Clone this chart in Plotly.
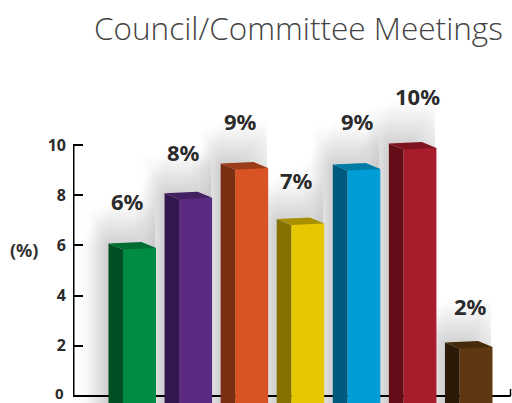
import plotly.graph_objects as go

categories = ["A", "B", "C", "D", "E", "F", "G"]
values = [5.9, 7.9, 9.08, 6.87, 9.04, 9.88, 1.95]
labels = ["6%", "8%", "9%", "7%", "9%", "10%", "2%"]
tick_vals = [2, 4, 6, 8, 10]
title = "Council/Committee Meetings"

front = ["#008C44", "#5B2A82", "#D95324", "#E6C700", "#009DD6", "#A91C2B", "#5F3812"]
side = ["#004F24", "#33174F", "#7A2E12", "#857000", "#005A7E", "#630D18", "#2B1A08"]
top = ["#006B33", "#43205F", "#9A3D18", "#A79000", "#007BA6", "#7E1420", "#452A0C"]

W, H = 512, 403
LEFT = 73
PX_X = 56.08          # pixels per category
PX_Y = 25.1           # pixels per unit
ymin = -7 / PX_Y
ymax = ymin + H / PX_Y
xmin = (LEFT - 139.5) / PX_X
xmax = xmin + (W - LEFT) / PX_X
dx = lambda p: p / PX_X
dy = lambda p: p / PX_Y

FW = 33
SIDE = 14.5
xs = list(range(len(values)))
label_dx = [-12.5, -12.5, -11, -11, -6.5, -2, -5]
label_dy = [47, 46, 47, 44, 48, 52, 41]

fig = go.Figure()
fig.add_trace(go.Bar(
    x=xs, y=[v - ymin for v in values], base=ymin, width=dx(FW),
    marker=dict(color=front, line=dict(width=0)), hoverinfo="skip", showlegend=False,
))

shapes = []
# soft shadow behind the bars: stacked translucent rectangles
for i, v in zip(xs, values):
    for j in range(1, 25):
        shapes.append(dict(
            type="rect", layer="below", xref="x", yref="y", line=dict(width=0),
            fillcolor="rgba(0,0,0,0.0055)",
            x0=i - dx(FW / 2 + SIDE + 1.3 * j), x1=i + dx(FW / 2 + 2 - 1.2 * j),
            y0=ymin, y1=v + dy(50 - 2.0 * j),
        ))
        shapes.append(dict(
            type="rect", layer="below", xref="x", yref="y", line=dict(width=0),
            fillcolor="rgba(0,0,0,0.0035)",
            x0=i - dx(FW / 2 + SIDE + 0.9 * j), x1=i + dx(FW / 2 - 1),
            y0=ymin, y1=v + dy(1.8 * j),
        ))
# axis lines
shapes.append(dict(type="line", layer="below", xref="x", yref="y", x0=xmin + dx(0.5), x1=xmin + dx(0.5), y0=ymin + dy(6), y1=10, line=dict(color="#000", width=2)))
shapes.append(dict(type="line", layer="below", xref="x", yref="y", x0=xmin, x1=xmin + dx(437.5), y0=0, y1=0, line=dict(color="#000", width=2)))
shapes.append(dict(type="line", layer="below", xref="x", yref="y", x0=xmin + dx(437.5), x1=xmin + dx(437.5), y0=0, y1=dy(7), line=dict(color="#000", width=1.5)))

for i, v in zip(xs, values):
    l = i - dx(FW / 2)
    r = i + dx(FW / 2)
    # side face
    fig.add_trace(go.Scatter(
        x=[l - dx(SIDE), l, l, l - dx(SIDE), l - dx(SIDE)],
        y=[ymin, ymin, v - dy(1.5), v + dy(4.5), ymin],
        mode="lines", fill="toself", fillcolor=side[i], line=dict(width=0),
        hoverinfo="skip", showlegend=False,
    ))
    # top face
    fig.add_trace(go.Scatter(
        x=[l - dx(SIDE), l, r, r - dx(SIDE), l - dx(SIDE)],
        y=[v + dy(4.5), v - dy(1.5), v, v + dy(6), v + dy(4.5)],
        mode="lines", fill="toself", fillcolor=top[i], line=dict(width=0),
        hoverinfo="skip", showlegend=False,
    ))

ann = []
for i, v in zip(xs, values):
    ann.append(dict(
        x=i + dx(label_dx[i]), y=v, xref="x", yref="y", yshift=label_dy[i], text=labels[i],
        showarrow=False, xanchor="center", yanchor="middle",
        font=dict(family="Noto Sans", size=22, weight=700, color="#2b2b2b"),
    ))
ann.append(dict(x=(24 - LEFT) / (W - LEFT), y=(H - 250) / H, xref="paper", yref="paper", text="(%)",
                showarrow=False, xanchor="center", yanchor="middle",
                font=dict(family="Noto Sans", size=18, weight=700, color="#333")))
ann.append(dict(x=1 - 7 / (W - LEFT), y=(H - 28) / H, xref="paper", yref="paper", text=title,
                showarrow=False, xanchor="right", yanchor="middle",
                font=dict(family="Open Sans", size=31.5, weight=300, color="#444")))
# the zero label sits at the figure's bottom edge, where the axis drops it
ann.append(dict(x=xmin, y=0, xref="x", yref="y", xshift=-7, yshift=3, text="0", showarrow=False,
                xanchor="right", yanchor="middle",
                font=dict(family="Noto Sans", size=15, weight=700, color="#2b2b2b")))

fig.update_layout(
    width=W, height=H, margin=dict(l=LEFT, r=0, t=0, b=0),
    paper_bgcolor="white", plot_bgcolor="white",
    showlegend=False, shapes=shapes, annotations=ann,
    xaxis=dict(range=[xmin, xmax], visible=False),
    yaxis=dict(range=[ymin, ymax], tickvals=tick_vals, ticks="inside", ticklen=10, tickwidth=2,
               tickcolor="#000", showgrid=False, zeroline=False, showline=False,
               ticklabelstandoff=6,
               tickfont=dict(family="Noto Sans", size=16, weight=700, color="#2b2b2b")),
)
fig.write_html("out.html", config={"displayModeBar": False},
               post_script="document.body.style.margin='0';document.documentElement.style.overflow='hidden';")
